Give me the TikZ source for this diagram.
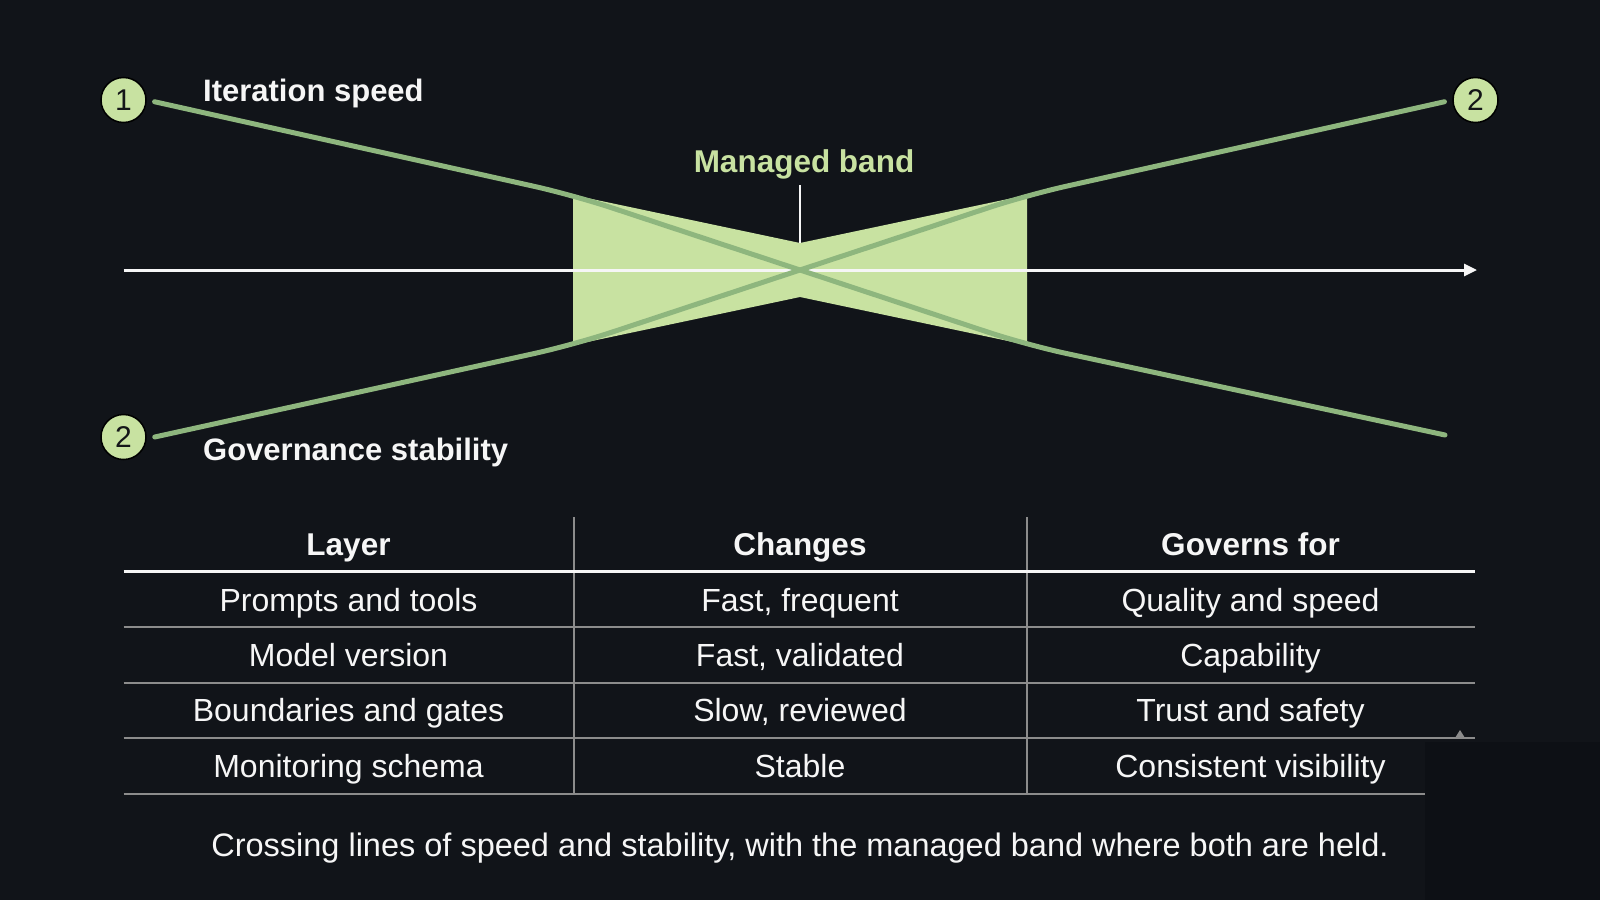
\documentclass[tikz,border=0pt]{standalone}
\usepackage{fontspec}
\setmainfont{Liberation Sans}
\usetikzlibrary{arrows.meta}
\definecolor{bg}{RGB}{17,20,25}
\definecolor{bgdark}{RGB}{13,16,21}
\definecolor{band}{RGB}{200,226,161}
\definecolor{gline}{RGB}{142,182,126}
\definecolor{txt}{RGB}{246,246,246}
\definecolor{rulec}{RGB}{140,140,140}
\definecolor{numc}{RGB}{20,22,24}
\tikzset{
  badge/.style={circle,fill=band,draw=black,line width=1.5pt,minimum size=45pt,inner sep=0pt,text=numc,font=\fontsize{30}{32}\selectfont},
  capbox/.style={inner sep=0pt,text height=22.6pt,text depth=0pt},
  lbl/.style={capbox,text=txt,font=\fontsize{31}{36}\selectfont\bfseries,anchor=west},
  trend/.style={draw=gline,line width=5pt,line cap=round,rounded corners=40pt},
  hdr/.style={capbox,text=txt,font=\fontsize{31.5}{36}\selectfont\bfseries},
  cell/.style={capbox,text=txt,font=\fontsize{32}{36}\selectfont},
  rowline/.style={draw=rulec,line width=2pt},
}
\begin{document}
\begin{tikzpicture}[x=1pt,y=-1pt]
\fill[bg] (0,0) rectangle (1600,900);
\useasboundingbox (0,0) rectangle (1600,900);
\fill[bgdark] (1425,742) rectangle (1600,900);

% band
\coordinate (tl) at (573,195);
\coordinate (bl) at (573,345);
\coordinate (tr) at (1027,195);
\coordinate (br) at (1027,345);
\coordinate (nt) at (800,243);
\coordinate (nb) at (800,297);
\coordinate (x0) at (800,270);
\fill[band] (tl) -- (nt) -- (tr) -- (br) -- (nb) -- (bl) -- cycle;

% axis
\coordinate (ax0) at (123.5,270);
\coordinate (ax1) at (1477,270);
\draw[txt,line width=3pt,-{Triangle[length=13pt,width=12pt]}] (ax0) -- (ax1);

% badges
\node[badge] (c1) at (123.5,100) {1};
\node[badge] (c2r) at (1475.5,100) {2};
\node[badge] (c2l) at (123.5,437) {2};

% trend lines
\coordinate (e1) at (1445,435);
\draw[trend,shorten <=8pt] (c1.east) -- (tl) -- (x0) -- (br) -- (e1);
\draw[trend,shorten >=8pt] ([xshift=8pt]c2l.east) -- (bl) -- (x0) -- (tr) -- (c2r.west);

% labels
\node[lbl] (it) at (203,90) {Iteration speed};
\node[lbl] (gv) at (203,449.5) {Governance stability};
\node[hdr,text=band] (mb) at (804,161) {Managed band};
\coordinate (tk) at (800,185);
\draw[txt,line width=2pt] (tk) -- (nt);

% table
\draw[rulec,line width=2pt] (573.5,517) -- (573.5,794);
\draw[rulec,line width=2pt] (1026.5,517) -- (1026.5,794);
\draw[txt,line width=3pt] (123.5,571.5) -- (1475,571.5);
\draw[rowline] (123.5,626.5) -- (1475,626.5);
\draw[rowline] (123.5,682.5) -- (1475,682.5);
\draw[rowline] (123.5,738) -- (1475,738);
\draw[rowline] (123.5,794) -- (1425,794);
\fill[rulec] (1455,738) -- (1460,730) -- (1465,738) -- cycle;

\node[hdr] (h1) at (348.5,544) {Layer};
\node[hdr] (h2) at (800,544) {Changes};
\node[hdr] (h3) at (1250.5,544) {Governs for};

\node[cell] (r1a) at (348.5,600) {Prompts and tools};
\node[cell] (r1b) at (800,600) {Fast, frequent};
\node[cell] (r1c) at (1250.5,600) {Quality and speed};
\node[cell] (r2a) at (348.5,655) {Model version};
\node[cell] (r2b) at (800,655) {Fast, validated};
\node[cell] (r2c) at (1250.5,655) {Capability};
\node[cell] (r3a) at (348.5,710.5) {Boundaries and gates};
\node[cell] (r3b) at (800,710.5) {Slow, reviewed};
\node[cell] (r3c) at (1250.5,710.5) {Trust and safety};
\node[cell] (r4a) at (348.5,766) {Monitoring schema};
\node[cell] (r4b) at (800,766) {Stable};
\node[cell] (r4c) at (1250.5,766) {Consistent visibility};

\node[cell,font=\fontsize{32.5}{36}\selectfont] (cap) at (800,845) {Crossing lines of speed and stability, with the managed band where both are held.};
\end{tikzpicture}
\end{document}
